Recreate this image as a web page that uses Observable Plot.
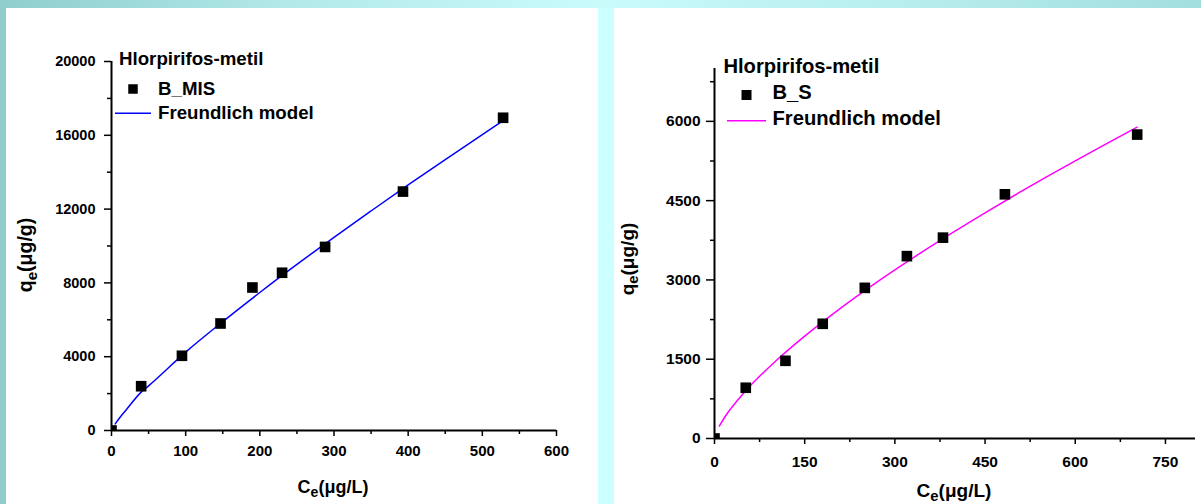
<!DOCTYPE html>
<html>
<head>
<meta charset="utf-8">
<script src="https://cdn.jsdelivr.net/npm/d3@7"></script>
<script src="https://cdn.jsdelivr.net/npm/@observablehq/plot@0.6"></script>
<style>
  html, body { margin: 0; padding: 0; }
  #root { position: relative; width: 1201px; height: 504px; overflow: hidden;
    background: linear-gradient(to right, #8fcdcd 0%, #b4eaea 25%, #c9fbfb 50%, #b8eeee 75%, #a3dede 100%); }
  .panel { position: absolute; top: 8px; height: 496px; background: #ffffff; }
  #gap { position: absolute; left: 598px; top: 8px; width: 16px; height: 496px; background: #ccffff; }
  .panel svg { position: absolute; left: 0; top: 0; }
</style>
</head>
<body>
<div id="root">
  <div id="leftPanel" class="panel" style="left:6px;width:592px;"></div>
  <div id="gap"></div>
  <div id="rightPanel" class="panel" style="left:614px;width:587px;"></div>
</div>
<script>
// ---------- Data ----------
const legendTitle = "Hlorpirifos-metil";
const modelLabel = "Freundlich model";

// Left chart: B_MIS
const leftSeriesName = "B_MIS";
const leftCe = [0, 40, 95, 147, 190, 230, 288, 393, 528];
const leftQe = [0, 2400, 4050, 5800, 7750, 8550, 9950, 12950, 16950];
const leftModelCe = [5, 10, 20, 40, 50, 100, 150, 200, 250, 300, 350, 400, 450, 500, 528];
const leftModelQe = [360, 640, 1130, 2080, 2420, 4250, 5900, 7480, 9000, 10470, 11900, 13310, 14680, 16030, 16800];
const leftYTicks = [0, 4000, 8000, 12000, 16000, 20000];
const leftYMinor = [2000, 6000, 10000, 14000, 18000];
const leftXTicks = [0, 100, 200, 300, 400, 500, 600];
const leftXMinor = [50, 150, 250, 350, 450, 550];

// Right chart: B_S
const rightSeriesName = "B_S";
const rightCe = [0, 52, 118, 180, 250, 320, 380, 483, 703];
const rightQe = [0, 960, 1470, 2170, 2850, 3450, 3800, 4620, 5750];
const rightModelCe = [8, 20, 50, 100, 150, 200, 250, 300, 350, 400, 450, 500, 550, 600, 650, 703];
const rightModelQe = [235, 454, 878, 1446, 1936, 2382, 2797, 3189, 3563, 3923, 4270, 4607, 4934, 5254, 5565, 5890];
const rightYTicks = [0, 1500, 3000, 4500, 6000];
const rightYMinor = [750, 2250, 3750, 5250, 6750];
const rightXTicks = [0, 150, 300, 450, 600, 750];
const rightXMinor = [75, 225, 375, 525, 675];

const FONT = "'Liberation Sans', Arial, Helvetica, sans-serif";

function makeChart(cfg) {
  const pts = cfg.ce.map((c, i) => ({c, q: cfg.qe[i]}));
  const model = cfg.mCe.map((c, i) => ({c, q: cfg.mQe[i]}));
  const svg = Plot.plot({
    width: cfg.width, height: 496,
    marginLeft: cfg.ml, marginRight: cfg.mr, marginTop: cfg.mt, marginBottom: cfg.mb,
    style: {fontFamily: FONT, fontWeight: "bold", color: "#000", background: "transparent", overflow: "visible"},
    x: {domain: cfg.xDomain},
    y: {domain: cfg.yDomain},
    marks: [
      Plot.axisY({ticks: cfg.yTicks, tickSize: cfg.yTickSize, tickPadding: cfg.yTickPad, tickFormat: d => String(d), label: null, fontSize: cfg.yTickFont, strokeWidth: 1.5}),
      Plot.axisY({ticks: cfg.yMinor, tickSize: 4, tickFormat: () => "", label: null, strokeWidth: 1.5}),
      Plot.axisX({ticks: cfg.xTicks, tickSize: 6, tickPadding: cfg.xTickPad, tickFormat: d => String(d), label: null, fontSize: cfg.xTickFont, strokeWidth: 1.5}),
      Plot.axisX({ticks: cfg.xMinor, tickSize: 4, tickFormat: () => "", label: null, strokeWidth: 1.5}),
      Plot.line(model, {x: "c", y: "q", stroke: cfg.color, strokeWidth: 1.5, curve: "monotone-x"}),
      Plot.dot(pts, {x: "c", y: "q", symbol: "square", r: cfg.dotR, fill: "#000", stroke: "none", clip: true}),
      Plot.ruleX([0], {stroke: "#000", strokeWidth: 2}),
      Plot.ruleY([0], {stroke: "#000", strokeWidth: 2})
    ]
  });
  const s = d3.select(svg);
  const lg = cfg.legend;
  const g = s.append("g").attr("font-family", FONT).attr("font-weight", "bold").attr("fill", "#000").attr("text-anchor", "start");
  g.append("text").attr("x", lg.tx).attr("y", lg.ty).attr("font-size", lg.fs).text(legendTitle);
  g.append("rect").attr("x", lg.sx - lg.ss / 2).attr("y", lg.sy - lg.ss / 2).attr("width", lg.ss).attr("height", lg.ss).attr("fill", "#000");
  g.append("text").attr("x", lg.lx).attr("y", lg.by).attr("font-size", lg.fs).text(cfg.name);
  g.append("line").attr("x1", lg.l1).attr("x2", lg.l2).attr("y1", lg.ly).attr("y2", lg.ly).attr("stroke", cfg.color).attr("stroke-width", 1.5);
  g.append("text").attr("x", lg.lx).attr("y", lg.fy).attr("font-size", lg.fs).text(modelLabel);

  // x title
  const xt = g.append("text").attr("x", cfg.xt.x).attr("y", cfg.xt.y).attr("font-size", cfg.xt.fs).attr("text-anchor", "middle");
  xt.append("tspan").text("C");
  xt.append("tspan").attr("dy", cfg.xt.fs * 0.22).attr("font-size", cfg.xt.fs * 0.78).text("e");
  xt.append("tspan").attr("dy", -cfg.xt.fs * 0.22).text("(\u03bcg/L)");
  // y title
  const yt = g.append("text").attr("transform", `translate(${cfg.yt.x},${cfg.yt.y}) rotate(-90)`).attr("font-size", cfg.yt.fs).attr("text-anchor", "middle");
  yt.append("tspan").text("q");
  yt.append("tspan").attr("dy", cfg.yt.fs * 0.24).attr("font-size", cfg.yt.fs * 0.78).text("e");
  yt.append("tspan").attr("dy", -cfg.yt.fs * 0.24).text("(\u03bcg/g)");
  return svg;
}

document.getElementById("leftPanel").appendChild(makeChart({
  width: 592, ml: 105, mr: 42, mt: 53, mb: 74,
  xDomain: [0, 600], yDomain: [0, 20000],
  ce: leftCe, qe: leftQe, mCe: leftModelCe, mQe: leftModelQe,
  yTicks: leftYTicks, yMinor: leftYMinor, xTicks: leftXTicks, xMinor: leftXMinor,
  yTickSize: 7, yTickPad: 9, xTickPad: 9, yTickFont: 14.5, xTickFont: 15,
  color: "#0000ff", dotR: 6, name: leftSeriesName,
  legend: {tx: 113, ty: 57, fs: 18.7, sx: 127, sy: 81, ss: 9.5, lx: 152, by: 86.5, l1: 109, l2: 145, ly: 105.3, fy: 110.5},
  xt: {x: 327, y: 485, fs: 18},
  yt: {x: 26, y: 247, fs: 19.5}
}));

document.getElementById("rightPanel").appendChild(makeChart({
  width: 587, ml: 100, mr: 6, mt: 60, mb: 66,
  xDomain: [0, 800], yDomain: [0, 7000],
  ce: rightCe, qe: rightQe, mCe: rightModelCe, mQe: rightModelQe,
  yTicks: rightYTicks, yMinor: rightYMinor, xTicks: rightXTicks, xMinor: rightXMinor,
  yTickSize: 8, yTickPad: 6, xTickPad: 11, yTickFont: 15.5, xTickFont: 15.5,
  color: "#ff00ff", dotR: 6, name: rightSeriesName,
  legend: {tx: 109.4, ty: 65, fs: 20.2, sx: 132.5, sy: 87, ss: 10, lx: 158.5, by: 91, l1: 113, l2: 152, ly: 112.7, fy: 117},
  xt: {x: 340, y: 489, fs: 19},
  yt: {x: 19.6, y: 251, fs: 19}
}));
</script>
</body>
</html>
